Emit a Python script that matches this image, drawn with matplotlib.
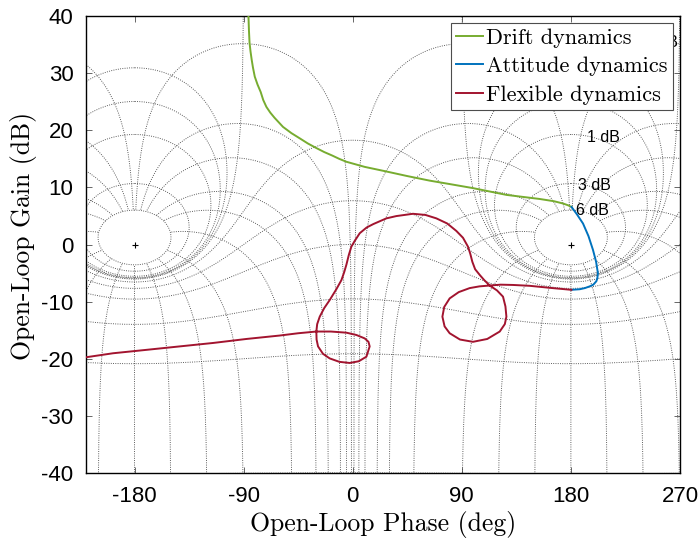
import numpy as np
import matplotlib
matplotlib.use("Agg")
import matplotlib.pyplot as plt

# ---- frequency-response branches (open-loop phase in deg, gain in dB) ----
drift_phase = [-86.0, -85.6, -85.1, -84.3, -83.3, -82.3, -80.8, -78.5, -75.9, -73.8,
               -71.2, -68.0, -64.5, -61.0, -57.5, -50.5, -43.7, -37.0, -30.0, -23.5,
               -17.0, -11.0, -5.2, 10.0, 27.8, 45.0, 63.5, 80.0, 99.0, 127.0,
               154.0, 166.0, 173.5, 177.5, 180.5]
drift_gain = [40.0, 37.5, 35.3, 33.8, 32.3, 31.0, 29.4, 28.0, 26.7, 25.3,
              24.1, 23.1, 22.2, 21.4, 20.6, 19.5, 18.6, 17.7, 16.9, 16.2,
              15.6, 15.0, 14.5, 13.6, 12.8, 12.0, 11.2, 10.6, 9.9, 8.7,
              8.0, 7.6, 7.2, 6.9, 6.6]

attitude_phase = [180.5, 185.0, 190.0, 194.5, 198.2, 200.8, 202.3, 201.8, 201.0,
                  198.5, 195.5, 191.5, 187.3, 180.4]
attitude_gain = [6.6, 5.3, 3.7, 1.5, -0.9, -3.0, -5.0, -5.9, -6.4,
                 -7.0, -7.3, -7.6, -7.8, -7.9]

flexible_phase = [180.4, 165.0, 146.0, 132.2, 122.0, 113.0, 104.5, 96.5, 87.5, 80.0,
                  75.5, 74.0, 75.8, 80.0, 88.5, 99.2, 111.0, 121.3, 125.5, 126.8,
                  126.0, 124.0, 119.0, 113.0, 108.5, 104.8, 101.0, 98.7, 97.0, 95.1,
                  91.0, 85.5, 78.0, 69.0, 60.0, 49.7, 36.0, 27.8, 17.0, 11.5,
                  5.8, 1.5, -1.1, -3.2, -5.2, -7.0, -9.3, -13.5, -19.0, -23.5,
                  -27.2, -29.3, -30.0, -29.8, -28.6, -24.5, -19.0, -11.0, -2.5, 5.0,
                  11.3, 14.0, 13.0, 9.9, 3.0, -5.2, -18.0, -30.0, -45.0, -60.2,
                  -87.7, -115.2, -142.7, -170.0, -197.7, -220.0]
flexible_gain = [-7.9, -7.6, -7.2, -7.05, -7.0, -7.15, -7.3, -7.6, -8.3, -9.4,
                 -10.9, -12.6, -14.3, -15.5, -16.6, -17.0, -16.5, -15.2, -13.9, -12.6,
                 -10.8, -9.1, -8.0, -7.15, -6.2, -5.3, -4.3, -3.0, -1.6, -0.35,
                 1.2, 2.4, 3.7, 4.6, 5.2, 5.4, 5.0, 4.6, 3.6, 3.0,
                 2.0, 0.6, -0.35, -1.8, -3.5, -4.8, -6.2, -7.8, -9.7, -11.1,
                 -12.6, -13.9, -15.2, -16.6, -17.8, -19.1, -19.9, -20.5, -20.7, -20.4,
                 -19.6, -17.8, -17.0, -16.4, -15.8, -15.4, -15.2, -15.2, -15.5, -15.9,
                 -16.5, -17.2, -17.8, -18.4, -19.0, -19.7]

# ---- Nichols grid specification ----
grid_gains_db = [6, 3, 1, 0.5, 0.25, 0, -1, -3, -6, -12, -20, -40]
grid_phases_deg = [1, 5, 10, 20, 30, 50, 90, 120, 150, 180,
                   210, 240, 270, 310, 330, 340, 350, 355, 359]
grid_centers = [-540, -180, 180, 540]
phase_line_max_db = 6.0
gain_labels = ["6 dB", "3 dB", "1 dB"]
label_phase = [184.0, 185.6, 193.0]
label_gain = [5.9, 10.4, 18.8]

xticks = [-180, -90, 0, 90, 180, 270]
xtick_labels = ["-180", "-90", "0", "90", "180", "270"]
yticks = [-40, -30, -20, -10, 0, 10, 20, 30, 40]
ytick_labels = ["-40", "-30", "-20", "-10", "0", "10", "20", "30", "40"]

fig = plt.figure(figsize=(7.0, 5.39), dpi=100)
ax = fig.add_axes([0.1229, 0.1219, 0.8485, 0.8484])

grid_style = dict(color="0.28", lw=0.65, ls=(0, (1, 1.5)), zorder=1)


def gain_contour(gdb, center):
    m = 10 ** (gdb / 20.0)
    eps = 1e-5 if gdb == 0 else 0.0
    phi = np.linspace(eps, 2 * np.pi - eps, 6000)
    T = m * np.exp(1j * phi)
    G = T / (1 - T)
    ang = np.degrees(np.unwrap(np.angle(G)))
    mag = 20 * np.log10(np.abs(G))
    if m > 1:
        ang = ang + (center - ang[0])
    else:
        mid = len(phi) // 2
        ang = ang + (center - ang[mid])
    return ang, mag


def phase_contour(pdeg, center):
    mmax = 10 ** (phase_line_max_db / 20.0)
    m = np.unique(np.concatenate([np.logspace(-4, np.log10(mmax), 6000),
                                  np.linspace(0.8, 1.25, 6000)]))
    T = m * np.exp(1j * np.radians(pdeg))
    G = T / (1 - T)
    ang = np.degrees(np.unwrap(np.angle(G)))
    mag = 20 * np.log10(np.abs(G))
    # shift so the closed-loop-gain end lies around the chosen critical point
    shift = np.round((ang[-1] - 180.0) / 360.0) * 360.0
    ang = ang - shift + (center - 180.0)
    return ang, mag


for c in grid_centers:
    for g in grid_gains_db:
        a, mg = gain_contour(g, c)
        ax.plot(a, mg, **grid_style)
    for p in grid_phases_deg:
        a, mg = phase_contour(p, c)
        ax.plot(a, mg, **grid_style)
    ax.plot([c], [0], marker="+", color="k", ms=4, mew=0.8, zorder=2)

for txt, xp, yp in zip(gain_labels, label_phase, label_gain):
    ax.text(xp, yp, txt, fontsize=11.5, family="Liberation Sans",
            ha="left", va="center", zorder=3)
ax.text(268.0, 35.3, "0.25 dB", fontsize=11.5, family="Liberation Sans",
        ha="right", va="center", zorder=3)

ax.plot(drift_phase, drift_gain, color="#77AC30", lw=1.4, zorder=4,
        label="Drift dynamics")
ax.plot(attitude_phase, attitude_gain, color="#0072BD", lw=1.4, zorder=4,
        label="Attitude dynamics")
ax.plot(flexible_phase, flexible_gain, color="#A2142F", lw=1.4, zorder=4,
        label="Flexible dynamics")

ax.set_xlim(-220, 270)
ax.set_ylim(-40, 40)
ax.set_xticks(xticks)
ax.set_xticklabels(xtick_labels)
ax.set_yticks(yticks)
ax.set_yticklabels(ytick_labels)
ax.tick_params(direction="in", length=4, width=0.6, top=True, right=True,
               labelsize=16, pad=9, color="0.3")
for lab in ax.get_xticklabels() + ax.get_yticklabels():
    lab.set_family("Liberation Sans")
for s in ax.spines.values():
    s.set_linewidth(1.0)

ax.set_xlabel("Open-Loop Phase (deg)", family="cmr10", fontsize=18.5, labelpad=3)
ax.set_ylabel("Open-Loop Gain (dB)", family="cmr10", fontsize=18.5)
ax.yaxis.set_label_coords(-0.082, 0.52)

leg = ax.legend(loc="upper right", prop={"family": "cmr10", "size": 16},
                handlelength=1.2, handletextpad=0.15, borderpad=0.25,
                labelspacing=0.4, borderaxespad=0.3, fancybox=False,
                framealpha=1.0)
leg.get_frame().set_edgecolor("0.3")
leg.get_frame().set_linewidth(0.8)
leg.set_zorder(5)

fig.savefig("out.png", dpi=100)
